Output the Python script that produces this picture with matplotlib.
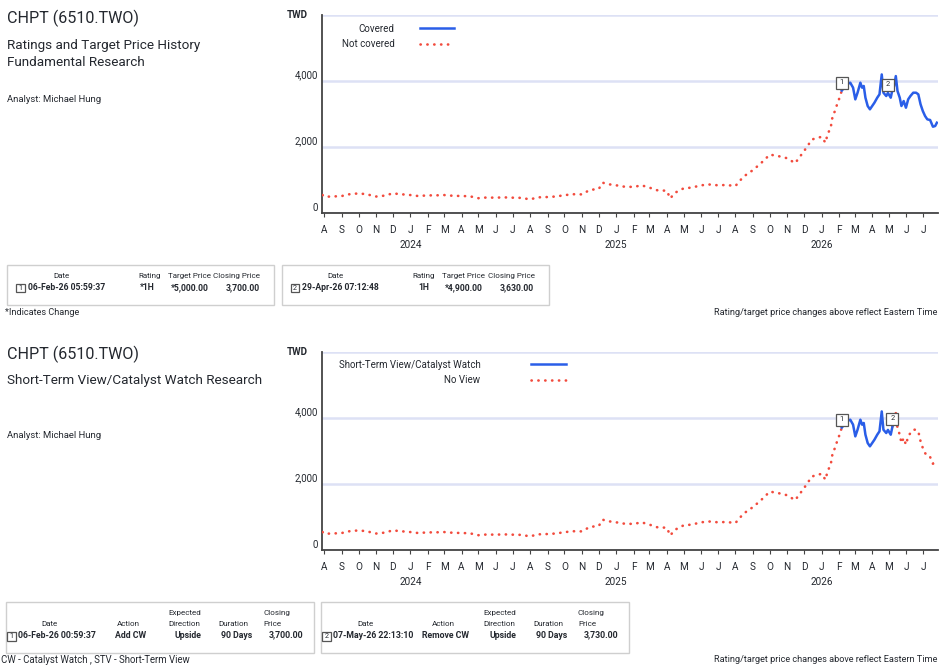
import matplotlib
matplotlib.use('Agg')
import matplotlib.pyplot as plt
import matplotlib.dates as mdates
from matplotlib.ticker import FuncFormatter
from matplotlib.patches import Rectangle
from matplotlib.lines import Line2D
from matplotlib.transforms import offset_copy
import pandas as pd

plt.rcParams['font.family'] = ['Roboto', 'DejaVu Sans']

# ---------------- data ----------------
price_dates = [
    '2023-07-29', '2023-08-01', '2023-08-15', '2023-09-01', '2023-09-15', '2023-10-01', '2023-10-15',
    '2023-11-01', '2023-11-15', '2023-12-01', '2023-12-15', '2024-01-01', '2024-01-15', '2024-02-01',
    '2024-02-15', '2024-03-01', '2024-03-15', '2024-04-01', '2024-04-15', '2024-05-01', '2024-05-15',
    '2024-06-01', '2024-06-15', '2024-07-01', '2024-07-15', '2024-08-01', '2024-08-15', '2024-09-01',
    '2024-09-15', '2024-10-01', '2024-10-15', '2024-11-01', '2024-11-15', '2024-12-01', '2024-12-08',
    '2024-12-15', '2025-01-01', '2025-01-15', '2025-02-01', '2025-02-15', '2025-03-01', '2025-03-15',
    '2025-04-01', '2025-04-07', '2025-04-15', '2025-05-01', '2025-05-15', '2025-06-01', '2025-06-15',
    '2025-07-01', '2025-07-15', '2025-08-01', '2025-08-15', '2025-09-01', '2025-09-15', '2025-10-01',
    '2025-10-15', '2025-11-01', '2025-11-15', '2025-12-01', '2025-12-15', '2026-01-01', '2026-01-08',
    '2026-01-12', '2026-01-17', '2026-01-21', '2026-01-25', '2026-01-28', '2026-02-02', '2026-02-06',
    '2026-02-15', '2026-02-21', '2026-02-26', '2026-03-02', '2026-03-06', '2026-03-11', '2026-03-14',
    '2026-03-17', '2026-03-20', '2026-03-24', '2026-03-28', '2026-04-01', '2026-04-05', '2026-04-10',
    '2026-04-14', '2026-04-18', '2026-04-21', '2026-04-26', '2026-04-29', '2026-05-04', '2026-05-07',
    '2026-05-10', '2026-05-13', '2026-05-16', '2026-05-20', '2026-05-23', '2026-05-27', '2026-05-31',
    '2026-06-04', '2026-06-08', '2026-06-13', '2026-06-18', '2026-06-22', '2026-06-26', '2026-06-30',
    '2026-07-04', '2026-07-08', '2026-07-13', '2026-07-18', '2026-07-22', '2026-07-25',
]
price_values = [
    535, 485, 490, 505, 560, 585, 560,
    490, 515, 585, 560, 535, 505, 525,
    525, 535, 515, 505, 500, 440, 460,
    455, 465, 455, 450, 405, 465, 475,
    490, 530, 560, 555, 690, 720, 910,
    870, 830, 790, 780, 830, 760, 680,
    665, 430, 600, 740, 760, 830, 855,
    830, 840, 810, 1090, 1290, 1495, 1760,
    1720, 1650, 1500, 1870, 2220, 2300, 2120,
    2400, 2550, 2960, 3080, 3250, 3485, 3700,
    3890, 3940, 3790, 3435, 3636, 3940, 3790,
    3840, 3485, 3233, 3133, 3233, 3333, 3485,
    3587, 4190, 3636, 3536, 3630, 3485, 3730,
    3840, 4140, 3688, 3485, 3233, 3384, 3181,
    3435, 3536, 3636, 3636, 3587, 3284, 3082,
    2930, 2829, 2809, 2606, 2627, 2727,
]

fund_marker_dates = ['2026-02-06', '2026-04-29']
fund_marker_labels = ['1', '2']
fund_table_dates = ['06-Feb-26 05:59:37', '29-Apr-26 07:12:48']
fund_ratings = ['*1H', '1H']
fund_targets = ['*5,000.00', '*4,900.00']
fund_closes = ['3,700.00', '3,630.00']
fund_close_values = [3700, 3630]

cw_marker_dates = ['2026-02-06', '2026-05-07']
cw_marker_labels = ['1', '2']
cw_table_dates = ['06-Feb-26 00:59:37', '07-May-26 22:13:10']
cw_actions = ['Add CW', 'Remove CW']
cw_directions = ['Upside', 'Upside']
cw_durations = ['90 Days', '90 Days']
cw_closes = ['3,700.00', '3,730.00']
cw_close_values = [3700, 3730]

y_ticks = [0, 2000, 4000, 6000]
y_tick_labels = ['0', '2,000', '4,000', '']

# ---------------- style ----------------
W, H = 940, 665
TEXT = '#24282f'
BLUE = '#2a5ee8'
RED = '#f24b3d'
GRID = '#dde1f5'
SPINE = '#444444'
BOXEDGE = '#cfcfcf'

fig = plt.figure(figsize=(W / 100, H / 100), dpi=100)


def fx(x):
    return x / W


def fy(y):
    return 1 - y / H


def T(x, y, s, **kw):
    kw.setdefault('color', TEXT)
    kw.setdefault('va', 'center')
    fig.text(fx(x), fy(y), s, **kw)


def rect(x0, y0, x1, y1, ec=BOXEDGE, lw=1.0):
    fig.add_artist(Rectangle((fx(x0), fy(y1)), (x1 - x0) / W, (y1 - y0) / H,
                             transform=fig.transFigure, fill=False, ec=ec, lw=lw))


def numbox(x, y, label, size=8.5, fs=5.2):
    rect(x - size / 2, y - size / 2, x + size / 2, y + size / 2, ec='#555555', lw=0.9)
    T(x, y, label, ha='center', fontsize=fs)


dates = pd.to_datetime(price_dates)
prices = pd.Series(price_values, index=dates)

dot_style = dict(color=RED, lw=1.9, linestyle=(0, (0.1, 2.5)), dash_capstyle='round')
line_style = dict(color=BLUE, lw=1.8, solid_joinstyle='round')


def make_axes(top_px, bottom_px):
    ax = fig.add_axes([fx(322), fy(bottom_px), (938 - 322) / W, (bottom_px - top_px) / H])
    ax.set_xlim(pd.Timestamp('2023-07-28'), pd.Timestamp('2026-07-27'))
    ax.set_ylim(0, 6000)
    ax.set_yticks(y_ticks)
    ax.set_yticklabels(y_tick_labels, va='bottom')
    ax.tick_params(axis='y', length=0, pad=3, labelsize=6.9, labelcolor=TEXT)
    ax.grid(axis='y', color=GRID, lw=1.8)
    ax.set_axisbelow(True)
    for s in ['top', 'right']:
        ax.spines[s].set_visible(False)
    for s in ['left', 'bottom']:
        ax.spines[s].set_color(SPINE)
        ax.spines[s].set_linewidth(1.3)
    ax.xaxis.set_major_locator(mdates.MonthLocator())
    ax.xaxis.set_major_formatter(FuncFormatter(lambda v, p: mdates.num2date(v).strftime('%b')[0]))
    ax.xaxis.set_minor_locator(mdates.YearLocator())
    ax.xaxis.set_minor_formatter(mdates.DateFormatter('%Y'))
    ax.xaxis.remove_overlapping_locs = False
    ax.tick_params(axis='x', which='major', length=3, width=0.8, color=SPINE, pad=5.5,
                   labelsize=7.2, labelcolor=TEXT)
    ax.tick_params(axis='x', which='minor', length=0, pad=19.5, labelsize=7.2, labelcolor=TEXT)
    ax.text(-0.04, 1.0, 'TWD', transform=ax.transAxes, ha='center', va='center',
            fontsize=7, fontweight='bold', color=TEXT)
    return ax


def add_markers(ax, mdates_list, labels, values):
    tr = offset_copy(ax.transData, fig=fig, x=0, y=8, units='dots')
    for d, lab, v in zip(mdates_list, labels, values):
        t = pd.Timestamp(d)
        ax.plot([t], [v], marker='s', ms=8.5, mfc='white', mec='#555555', mew=0.9,
                transform=tr, zorder=6, clip_on=False)
        ax.text(t, v, lab, transform=tr, ha='center', va='center', fontsize=5.3,
                color=TEXT, zorder=7)


# ---------------- text headers ----------------
T(7, 18, 'CHPT (6510.TWO)', fontsize=11.6)
T(7, 45, 'Ratings and Target Price History', fontsize=9.7)
T(7, 63, 'Fundamental Research', fontsize=9.7)
T(7, 99, 'Analyst: Michael Hung', fontsize=6.8)

T(7, 354, 'CHPT (6510.TWO)', fontsize=11.6)
T(7, 381, 'Short-Term View/Catalyst Watch Research', fontsize=9.7)
T(7, 436, 'Analyst: Michael Hung', fontsize=6.8)

# ---------------- chart 1 ----------------
ax1 = make_axes(14.7, 212.7)
start1 = pd.Timestamp(fund_marker_dates[0])
nc = prices[prices.index <= start1]
cv = prices[prices.index >= start1]
ax1.plot(nc.index, nc.values, **dot_style, zorder=3)
ax1.plot(cv.index, cv.values, **line_style, zorder=4)
add_markers(ax1, fund_marker_dates, fund_marker_labels, fund_close_values)
h1 = [Line2D([], [], **line_style), Line2D([], [], **dot_style)]
ax1.legend(h1, ['Covered', 'Not covered'], loc='upper right', bbox_to_anchor=(0.214, 0.955),
           frameon=False, markerfirst=False, handlelength=3.5, handletextpad=2.6,
           fontsize=7, labelspacing=0.55, borderpad=0, borderaxespad=0, labelcolor=TEXT)

# ---------------- chart 2 ----------------
ax2 = make_axes(351.7, 549.7)
s2 = pd.Timestamp(cw_marker_dates[0])
e2 = pd.Timestamp(cw_marker_dates[1])
pre = prices[prices.index <= s2]
mid = prices[(prices.index >= s2) & (prices.index <= e2)]
post = prices[prices.index >= e2]
ax2.plot(pre.index, pre.values, **dot_style, zorder=3)
ax2.plot(mid.index, mid.values, **line_style, zorder=4)
ax2.plot(post.index, post.values, **dot_style, zorder=3)
add_markers(ax2, cw_marker_dates, cw_marker_labels, cw_close_values)
h2 = [Line2D([], [], **line_style), Line2D([], [], **dot_style)]
ax2.legend(h2, ['Short-Term View/Catalyst Watch', 'No View'], loc='upper right',
           bbox_to_anchor=(0.396, 0.96), frameon=False, markerfirst=False,
           handlelength=3.6, handletextpad=5.2, fontsize=7, labelspacing=0.55,
           borderpad=0, borderaxespad=0, labelcolor=TEXT)

# ---------------- fundamental table ----------------
HFS, VFS = 5.8, 6.2
for i, left in enumerate([7, 281.7]):
    rect(left, 264.7, left + 267.3, 305)
    T(left + 54, 275.5, 'Date', ha='center', fontsize=HFS)
    T(left + 142.3, 275.5, 'Rating', ha='center', fontsize=HFS)
    T(left + 182.3, 275.5, 'Target Price', ha='center', fontsize=HFS)
    T(left + 229.3, 275.5, 'Closing Price', ha='center', fontsize=HFS)
    numbox(left + 13.5, 288, fund_marker_labels[i])
    T(left + 20.5, 287.5, fund_table_dates[i], ha='left', fontsize=VFS, fontweight='bold')
    T(left + 147.5, 287.5, fund_ratings[i], ha='right', fontsize=VFS, fontweight='bold')
    T(left + 201.5, 287.5, fund_targets[i], ha='right', fontsize=VFS, fontweight='bold')
    T(left + 252.5, 287.5, fund_closes[i], ha='right', fontsize=VFS, fontweight='bold')
T(5, 313, '*Indicates Change', ha='left', fontsize=6.6)
T(937, 313, 'Rating/target price changes above reflect Eastern Time', ha='right', fontsize=6.6)

# ---------------- catalyst watch table ----------------
HFS2, VFS2 = 5.8, 6.3
for i, left in enumerate([6, 321]):
    rect(left, 602, left + 308, 653)
    T(left + 162, 613.5, 'Expected', ha='left', fontsize=HFS2)
    T(left + 257, 613.5, 'Closing', ha='left', fontsize=HFS2)
    T(left + 44, 624, 'Date', ha='center', fontsize=HFS2)
    T(left + 122, 624, 'Action', ha='center', fontsize=HFS2)
    T(left + 162, 624, 'Direction', ha='left', fontsize=HFS2)
    T(left + 227, 624, 'Duration', ha='center', fontsize=HFS2)
    T(left + 257, 624, 'Price', ha='left', fontsize=HFS2)
    numbox(left + 5.5, 636.5, cw_marker_labels[i])
    T(left + 12, 635, cw_table_dates[i], ha='left', fontsize=VFS2, fontweight='bold')
    T(left + 125, 635, cw_actions[i], ha='center', fontsize=VFS2, fontweight='bold')
    T(left + 195, 635, cw_directions[i], ha='right', fontsize=VFS2, fontweight='bold')
    T(left + 246, 635, cw_durations[i], ha='right', fontsize=VFS2, fontweight='bold')
    T(left + 297, 635, cw_closes[i], ha='right', fontsize=VFS2, fontweight='bold')
T(1, 660, 'CW - Catalyst Watch , STV - Short-Term View', ha='left', fontsize=6.9)
T(937, 660, 'Rating/target price changes above reflect Eastern Time', ha='right', fontsize=6.6)

fig.savefig('out.png', dpi=100)
